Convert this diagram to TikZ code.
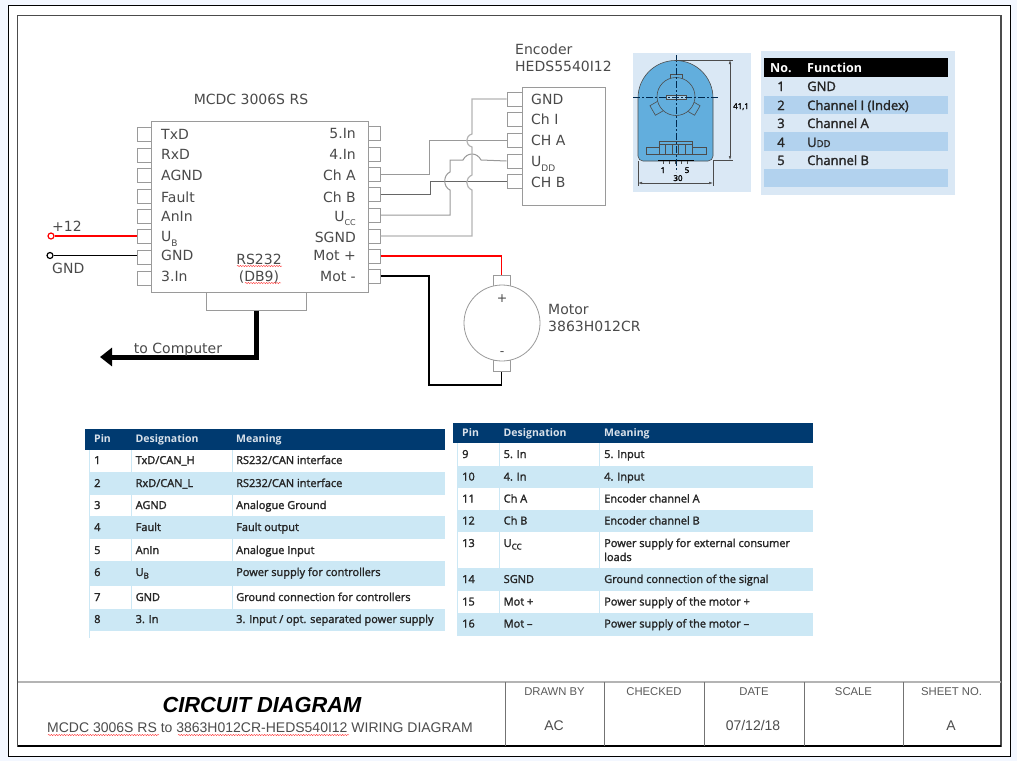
\documentclass[tikz,border=0pt]{standalone}
\usepackage{fontspec}
\setmainfont{DejaVu Sans}
\newfontfamily\tabfont[FakeBold=1.8]{Open Sans}
\newfontfamily\boldtabfont{Open Sans Bold}
\newfontfamily\blockfont{Liberation Sans}
\usetikzlibrary{%
  arrows.meta,
  positioning,
  decorations.pathmorphing
}
\definecolor{pagebg}{HTML}{F3F7FF}
\definecolor{textgray}{HTML}{4A4A4A}
\definecolor{pingray}{HTML}{9A9A9A}
\definecolor{wirelight}{HTML}{B4B4B4}
\definecolor{wiremid}{HTML}{999999}
\definecolor{wiredark}{HTML}{666666}
\definecolor{panelblue}{HTML}{DAE8F5}
\definecolor{bandblue}{HTML}{B2D2EE}
\definecolor{bodyblue}{HTML}{62AEDD}
\definecolor{tabhead}{HTML}{003A70}
\definecolor{tabband}{HTML}{CCE8F5}
\tikzset{
  lblw/.style={anchor=base west, inner sep=0, text=textgray, font=\fontsize{14}{16}\selectfont},
  lble/.style={anchor=base east, inner sep=0, text=textgray, font=\fontsize{14}{16}\selectfont},
  lblc/.style={anchor=base, inner sep=0, text=textgray, font=\fontsize{14}{16}\selectfont},
  pinbox/.style={draw=pingray, fill=white, line width=1, minimum width=14, minimum height=14, inner sep=0},
  partbox/.style={draw=pingray, fill=white, line width=1, inner sep=0},
  wire/.style={line width=1},
  powerwire/.style={line width=1.4},
  squiggle/.style={red!75, line width=0.4, decorate, decoration={snake, amplitude=0.7, segment length=2.6}},
  dimline/.style={black!70, line width=0.5},
  drawline/.style={draw=black!70, line width=0.6},
  centerline/.style={tabhead!70!black, line width=0.5, dash pattern=on 7pt off 2pt on 2pt off 2pt},
  dimtext/.style={anchor=base, inner sep=0, font=\tabfont\fontsize{8}{9}\selectfont},
  tabcell/.style={anchor=base west, inner sep=0, text=black!85, font=\tabfont\fontsize{11}{12}\selectfont},
  tabhd/.style={anchor=base west, inner sep=0, text=white!85!tabhead, font=\boldtabfont\fontsize{10.5}{12}\selectfont},
  enccell/.style={anchor=base west, inner sep=0, text=black!85, font=\tabfont\fontsize{13}{14}\selectfont},
  enchd/.style={anchor=base west, inner sep=0, text=white, font=\boldtabfont\fontsize{12.5}{14}\selectfont},
  blockhd/.style={anchor=base, inner sep=0, text=black!65, font=\blockfont\fontsize{11.3}{12}\selectfont},
  blockval/.style={anchor=base, inner sep=0, text=black!70, font=\blockfont\fontsize{14}{16}\selectfont}
}
\begin{document}
\begin{tikzpicture}[x=1pt, y=-1pt]
  \useasboundingbox (0,0) rectangle (1017,761);
  \fill [pagebg] (0,0) rectangle (1017,761);
  \draw [fill=white, line width=1] (8,5) rectangle (1010,756);
  \draw [black!70, line width=1.6] (17.5,15.5) rectangle (1001,746);

  % controller
  \foreach \i/\y in {1/134,2/155,3/175,4/196,5/216,6/236,7/257,8/278}
    \node [pinbox] (pl\i) at (144,\y) {};
  \foreach \i/\y in {1/133,2/154,3/174,4/194,5/215,6/236,7/256,8/276}
    \node [pinbox, minimum width=12] (pr\i) at (374,\y) {};
  \draw [partbox] (151,121) rectangle (368,292);
  \node [lblc] (mcdc) at (251,104) {MCDC 3006S RS};
  \foreach \i/\y/\t in {1/139/TxD,2/159/RxD,3/180/AGND,4/202/Fault,5/221/AnIn,7/260/GND,8/281/3.In}
    \node [lblw] (tl\i) at (161,\y) {\t};
  \node [lblw] (tl6) at (161,241) {U\raisebox{-5pt}{\fontsize{9}{9}\selectfont B}};
  \foreach \i/\y/\t in {1/138/5.In,2/159/4.In,3/180/Ch A,4/202/Ch B,6/242/SGND,7/260/Mot +,8/281/Mot -}
    \node [lble] (tr\i) at (356,\y) {\t};
  \node [lble] (tr5) at (356,221) {U\raisebox{-4pt}{\fontsize{8}{8}\selectfont CC}};
  \node [lblc] (rs) at (259,264) {RS232};
  \node [lblc] (db) at (259,281) {(DB9)};
  \draw [squiggle] (237,266) -- (282,266);
  \draw [squiggle] (245,283) -- (281,283);

  \node [partbox, minimum width=100, minimum height=18] (dbnine) at (256,301) {};
  \coordinate (tocomp) at (100,357);
  \draw [line width=5, -{Triangle[length=12pt, width=18pt]}] (dbnine.south) |- (tocomp);
  \node [lblc] (comp) at (178,353) {to Computer};

  % supply
  \node [circle, draw=red, fill=white, line width=1.2, minimum size=6, inner sep=0] (vplus) at (51,236) {};
  \node [circle, draw=black, fill=white, line width=1.2, minimum size=6, inner sep=0] (vgnd) at (50,255.5) {};
  \draw [red, powerwire] (vplus) -- (pl6);
  \draw [black, wire] (vgnd) -- (vgnd -| pl7.west);
  \node [lblw] (plus) at (52,231) {+12};
  \node [lblw] (gnd) at (52,273) {GND};

  % encoder
  \node [lblw] (enca) at (515,54) {Encoder};
  \node [lblw] (encb) at (515,71) {HEDS5540I12};
  \foreach \i/\y in {1/99,2/119,3/140,4/161,5/181}
    \node [pinbox, minimum width=15] (pe\i) at (514.5,\y) {};
  \draw [partbox] (522,87) rectangle (605,205);
  \foreach \i/\y/\t in {1/104/GND,2/124/Ch I,3/145/CH A,5/187/CH B}
    \node [lblw] (te\i) at (531,\y) {\t};
  \node [lblw] (te4) at (531,166) {U\raisebox{-5pt}{\fontsize{9}{9}\selectfont DD}};

  % wires to encoder
  \coordinate (busa) at (429,0);
  \coordinate (busb) at (430.5,0);
  \coordinate (busc) at (450,0);
  \coordinate (busg) at (472,0);
  \draw [wiremid, wire] (pr3.east) -| (busa |- pe3) -- (pe3.west);
  \draw [wiredark, wire] (pr4.east) -| (busb |- pe5) -- (pe5.west);
  \draw [wiremid, wire] (pr5.east) -- (pr5.east -| busc) -- (450,190)
        .. controls +(-7,-3) and +(-7,3) .. ++(0,-18)
        -- (450,160) -- (463,160)
        .. controls +(4,-8) and +(-4,-8) .. (481,160)
        -- (pe4.west);
  \draw [wirelight, line width=1.2] (pr6.east) -- (pr6.east -| busg) -- (472,190)
        .. controls +(-7,-3) and +(-7,3) .. ++(0,-15)
        -- (472,147)
        .. controls +(-7,-2) and +(-7,2) .. ++(0,-13)
        -- (busg |- pe1) -- (pe1.west);

  % motor
  \node [partbox, minimum width=17, minimum height=11] (mplus) at (501.5,280.5) {};
  \node [partbox, minimum width=17, minimum height=11] (mminus) at (501.5,365.5) {};
  \node [circle, draw=pingray, fill=white, line width=0.8, minimum size=76, inner sep=0] (motor) at (502,323) {};
  \coordinate (busm) at (429,385);
  \draw [red, powerwire] (pr7.east) -| (mplus.north);
  \draw [black, powerwire] (pr8.east) -| (busm) -| (mminus.south);
  \node [lblc, font=\fontsize{12.5}{13}\selectfont] (mp) at (502,302) {+};
  \node [lblc, font=\fontsize{12.5}{13}\selectfont] (mm) at (502,355) {-};
  \node [lblw] (mota) at (548,314) {Motor};
  \node [lblw] (motb) at (548,331) {3863H012CR};

  % encoder drawing
  \fill [panelblue] (633,53) rectangle (751,192);
  \draw [fill=bodyblue, drawline]
        (638,98) arc [start angle=180, end angle=360, radius=37.5]
        -- (713,156) arc [start angle=0, end angle=90, radius=5]
        -- (643,161) arc [start angle=90, end angle=180, radius=5] -- cycle;
  \draw [drawline] (670,74) rectangle (682,79);
  \node [drawline, fill=bodyblue, rotate=30, minimum width=10, minimum height=11, inner sep=0] (tabl) at (657,108) {};
  \node [drawline, fill=bodyblue, rotate=-30, minimum width=10, minimum height=11, inner sep=0] (tabr) at (693,108) {};
  \draw [fill=bodyblue, drawline] (676,96.5) circle [radius=19];
  \draw [fill=white!40!bodyblue, drawline] (666,95) rectangle (686,99);
  \draw [drawline] (646,147) rectangle (706,154);
  \draw [fill=bodyblue, drawline] (659,141) rectangle (692,154);
  \foreach \x in {665.5,672,678.5,685}
    \draw [drawline] (\x,144) -- (\x,154);
  \draw [drawline] (659,144) -- (692,144);
  \draw [black, line width=1] (658,160.5) -- (694,160.5);
  \foreach \x in {663,669,675,681,687}
    \draw [black!70, line width=1] (\x,161) -- (\x,164);
  \draw [centerline] (633,97) -- (718,97);
  \draw [centerline] (676,55) -- (676,172);
  \draw [dimline] (676,60) -- (733,60) (713,160) -- (733,160) (638,161) -- (638,186) (713,161) -- (713,186);
  \draw [dimline, {Latex[length=4pt, width=2.5pt]}-{Latex[length=4pt, width=2.5pt]}] (730,60) -- (730,160);
  \draw [dimline, {Latex[length=4pt, width=2.5pt]}-{Latex[length=4pt, width=2.5pt]}] (638,183) -- (713,183);
  \node [dimtext] (dimone) at (663,173) {1};
  \node [dimtext] (dimfive) at (687,173) {5};
  \node [dimtext] (dimw) at (678,181) {30};
  \node [dimtext] (dimh) at (741,109) {41,1};

  % encoder table
  \fill [panelblue] (761,51) rectangle (955,195);
  \fill [black] (764,58) rectangle (948,77);
  \foreach \ya/\yb in {96/114,132/151,169/187}
    \fill [bandblue] (764,\ya) rectangle (948,\yb);
  \node [enchd] (hno) at (770,72) {No.};
  \node [enchd] (hfn) at (807,72) {Function};
  \foreach \i/\y/\t in {1/91/GND,2/110/Channel I (Index),3/128/Channel A,5/165/Channel B}{
    \node [enccell, anchor=base] (no\i) at (781,\y) {\i};
    \node [enccell] (fn\i) at (807,\y) {\t};
  }
  \node [enccell, anchor=base] (no4) at (781,147) {4};
  \node [enccell] (fn4) at (807,147) {U{\fontsize{9.5}{10}\selectfont DD}};

  % pin table left
  \fill [tabhead] (85,429) rectangle (445,450);
  \foreach \ya/\yb in {472/495,516/539,561/586,609/631}
    \fill [tabband] (89,\ya) rectangle (445,\yb);
  \draw [tabband, line width=0.8] (89,450) -- (89,638) (131,450) -- (131,631) (232,450) -- (232,631);
  \node [tabhd] (ta) at (94,442) {Pin};
  \node [tabhd] (tb) at (135.5,442) {Designation};
  \node [tabhd] (tc) at (236,442) {Meaning};
  \foreach \i/\y/\d/\m in {%
      1/464/{TxD/CAN\_H}/{RS232/CAN interface},
      2/487/{RxD/CAN\_L}/{RS232/CAN interface},
      3/509/AGND/Analogue Ground,
      4/531/Fault/Fault output,
      5/554/AnIn/Analogue Input,
      6/576/{U\raisebox{-2.5pt}{\fontsize{8}{8}\selectfont B}}/Power supply for controllers,
      7/601/GND/Ground connection for controllers,
      8/623/3. In/{3. Input / opt. separated power supply}}{
    \node [tabcell] (ap\i) at (94,\y) {\i};
    \node [tabcell] (ad\i) at (135.5,\y) {\d};
    \node [tabcell] (am\i) at (236,\y) {\m};
  }

  % pin table right
  \fill [tabhead] (453,423) rectangle (813,443);
  \foreach \ya/\yb in {466/488,510/532,568/591,613/636}
    \fill [tabband] (457,\ya) rectangle (813,\yb);
  \draw [tabband, line width=0.8] (457,443) -- (457,636) (499,443) -- (499,636) (599,443) -- (599,636);
  \node [tabhd] (tx) at (462,436) {Pin};
  \node [tabhd] (ty) at (503.5,436) {Designation};
  \node [tabhd] (tz) at (604,436) {Meaning};
  \foreach \i/\y/\d/\m in {%
      9/458/5. In/5. Input,
      10/480.5/4. In/4. Input,
      11/502.5/Ch A/Encoder channel A,
      12/524.5/Ch B/Encoder channel B,
      13/547/{U\raisebox{-2.5pt}{\fontsize{8}{8}\selectfont CC}}/Power supply for external consumer,
      14/583/SGND/Ground connection of the signal,
      15/605.5/Mot +/Power supply of the motor +,
      16/627.5/Mot –/Power supply of the motor –}{
    \node [tabcell] (bp\i) at (462,\y) {\i};
    \node [tabcell] (bd\i) at (503.5,\y) {\d};
    \node [tabcell] (bm\i) at (604,\y) {\m};
  }
  \node [tabcell] (bm13b) at (604,561) {loads};

  % title block
  \draw [wirelight, line width=2] (18,682) -- (1001,682);
  \draw [black, line width=1.6] (18,746) -- (1001,746);
  \foreach \x in {505,604.5,704,804,903}
    \draw [black!55, line width=0.7] (\x,682) -- (\x,746);
  \node [anchor=base, inner sep=0, font=\blockfont\bfseries\itshape\fontsize{21.8}{24}\selectfont] (title) at (262,712.5) {CIRCUIT DIAGRAM};
  \node [anchor=base, inner sep=0, text=black!70, font=\blockfont\fontsize{14}{16}\selectfont] (subt) at (260,732) {MCDC 3006S RS to 3863H012CR-HEDS540I12 WIRING DIAGRAM};
  \draw [squiggle] (48,735) -- (159,735);
  \draw [squiggle] (178,735) -- (349,735);
  \foreach \x/\t in {554.5/DRAWN BY,654/CHECKED,754/DATE,853.5/SCALE,951.5/SHEET NO.}
    \node [blockhd] (h\t) at (\x,695) {\t};
  \node [blockval] (vdrawn) at (554,730) {AC};
  \node [blockval] (vdate) at (753,730) {07/12/18};
  \node [blockval] (vsheet) at (951,730) {A};
\end{tikzpicture}
\end{document}
